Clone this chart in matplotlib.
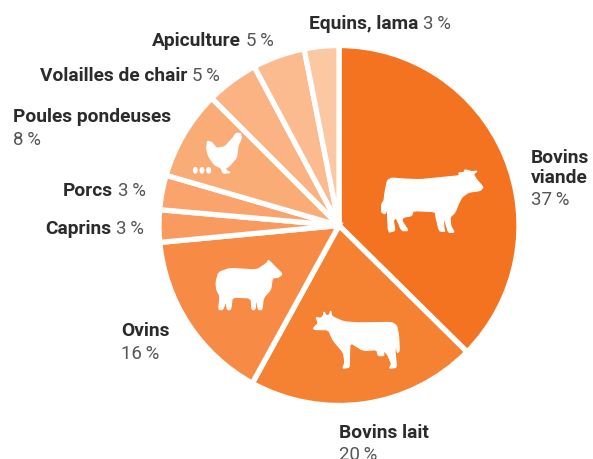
import matplotlib
matplotlib.use("Agg")
import matplotlib.pyplot as plt
from matplotlib.patches import Polygon, Ellipse

categories = ["Bovins viande", "Bovins lait", "Ovins", "Caprins", "Porcs",
              "Poules pondeuses", "Volailles de chair", "Apiculture", "Equins, lama"]
shown_percent = ["37\u202f%", "20\u202f%", "16\u202f%", "3\u202f%", "3\u202f%",
                 "8\u202f%", "5\u202f%", "5\u202f%", "3\u202f%"]
values = [37.4, 20.6, 15.5, 2.9, 3.1, 8.0, 4.7, 4.7, 3.1]
colors = ["#F47321", "#F58233", "#F78B46", "#F99B5E", "#FAA36C",
          "#FAAC76", "#FBB384", "#FBBB8E", "#FCC7A3"]

W, H = 593, 460
plt.rcParams["font.family"] = ["Roboto", "DejaVu Sans"]
fig = plt.figure(figsize=(W / 100, H / 100), dpi=100)
ax = fig.add_axes([0, 0, 1, 1])
ax.pie(values, colors=colors, startangle=90, counterclock=False, center=(339, H - 226.5),
       radius=180, frame=True, wedgeprops=dict(edgecolor="white", linewidth=3.8))
ax.set_xlim(0, W)
ax.set_ylim(0, H)
ax.axis("off")


def smooth(points, k=0.15):
    out = []
    n = len(points)
    for i in range(n):
        x0, y0 = points[i]
        x1, y1 = points[(i + 1) % n]
        out.append((x0 + k * (x1 - x0), y0 + k * (y1 - y0)))
        out.append((x1 - k * (x1 - x0), y1 - k * (y1 - y0)))
    return out


def shape(points, ox, oy):
    xy = [(ox + x / 3, H - (oy + y / 3)) for x, y in smooth(points)]
    ax.add_patch(Polygon(xy, closed=True, fc="white", ec="white", lw=0.8, zorder=5))


cow1 = [(75,130),(82,95),(95,87),(130,90),(180,92),(240,86),(300,80),(295,72),(312,70),(315,62),
        (335,68),(352,66),(340,76),(350,92),(370,115),(360,125),(325,130),(305,145),(295,165),
        (285,190),(270,205),(272,230),(283,250),(265,250),(255,215),(250,205),(252,240),(255,248),
        (238,246),(228,205),(226,188),(160,185),(155,200),(130,205),(125,215),(145,245),(125,245),
        (108,205),(100,215),(105,245),(85,250),(82,180),(75,195),(65,190),(65,165),(72,155)]
cow2 = [(40,88),(55,72),(48,55),(62,58),(70,50),(72,38),(78,50),(88,48),(92,35),(95,52),(130,68),
        (175,72),(275,70),(290,80),(296,110),(298,155),(292,162),(287,130),(285,160),(290,205),
        (268,208),(275,195),(262,165),(250,155),(252,170),(235,170),(230,152),(190,155),(150,130),
        (148,180),(148,205),(128,208),(135,190),(130,160),(100,125),(85,92),(45,92)]
sheep = [(198,490),(206,460),(240,448),(320,453),(350,433),(355,423),(375,443),(397,465),(385,475),
         (367,477),(362,512),(340,537),(336,572),(325,572),(318,537),(315,572),(306,572),(303,537),
         (247,534),(242,572),(232,572),(228,547),(218,572),(206,572),(210,532),(200,512)]
hen = [(172,66),(185,70),(200,88),(225,83),(248,58),(258,43),(272,43),(274,58),(264,80),(260,115),
       (237,142),(227,147),(230,155),(242,161),(220,163),(213,147),(193,137),(176,112),(170,90)]
shape(cow1, 360, 150)
shape(cow2, 300, 300)
shape(sheep, 150, 120)
shape(hen, 150, 120)
for ex in (136, 156, 176):
    ax.add_patch(Ellipse((150 + ex / 3, H - (120 + 154 / 3)), 15 / 3, 20 / 3, fc="white", ec="none", zorder=5))

BOLD = "#2b2b2b"
NUM = "#555555"
FS = 13.8
FN = 13.4
renderer = fig.canvas.get_renderer()


def label(x, y, bold, pct, next_line=None):
    lines = bold.split("\n")
    t = None
    for i, s in enumerate(lines):
        t = ax.text(x, H - (y + i * 20), s, fontsize=FS, fontweight="bold", color=BOLD, va="baseline", ha="left")
    if next_line is None:
        w = t.get_window_extent(renderer).width
        ax.text(x + w + 5, H - y, pct, fontsize=FN, fontweight="normal", color=NUM, va="baseline", ha="left")
    else:
        ax.text(x, H - next_line, pct, fontsize=FN, fontweight="normal", color=NUM, va="baseline", ha="left")


label(531, 163, categories[0].replace(" ", "\n"), shown_percent[0], 205)
label(339, 438, categories[1], shown_percent[1], 460)
label(121, 336, categories[2], shown_percent[2], 359)
label(45, 234, categories[3], shown_percent[3])
label(63, 196, categories[4], shown_percent[4])
label(13, 122, categories[5], shown_percent[5], 145)
label(40, 81, categories[6], shown_percent[6])
label(152, 46, categories[7], shown_percent[7])
label(309, 29, categories[8], shown_percent[8])

fig.savefig("out.png", dpi=100)
